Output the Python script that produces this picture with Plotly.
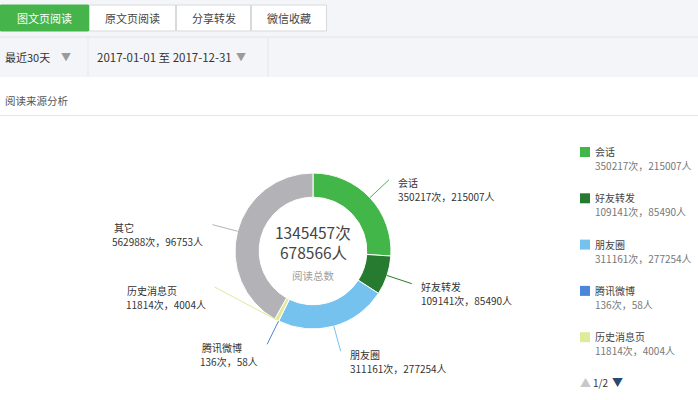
import math
import plotly.graph_objects as go

# ---------------- data ----------------
sources = ["会话", "好友转发", "朋友圈", "腾讯微博", "历史消息页", "其它"]
reads = [350217, 109141, 311161, 136, 11814, 562988]      # 次
readers = [215007, 85490, 277254, 58, 4004, 96753]         # 人
tabs = ["图文页阅读", "原文页阅读", "分享转发", "微信收藏"]
period_label = "最近30天"
date_range = "2017-01-01 至 2017-12-31"
center_caption = "阅读总数"
section_title = "阅读来源分析"
legend_page = "1/2"

# ---------------- style ----------------
W, H = 698, 400
colors = ["#43b649", "#267b31", "#75c2ee", "#4a86dc", "#dfeb98", "#b3b3b7"]
FONT = "Noto Sans CJK SC, Microsoft YaHei, sans-serif"
CX, CY, R = 313, 251, 78          # donut centre / outer radius (px)
HOLE = 0.69
LINE_EXT = 26                      # leader line length (px)
# per-slice leader override (dx, dy from ring point) for crowded labels
leader_override = {"历史消息页": (-62, -33)}
legend_rows = 5
LBL = 10                           # label font size


def X(px):
    return px / W


def Y(py):
    return 1 - py / H


def text(x, y, t, size, color, xa="center", ya="middle", align="left"):
    return dict(xref="paper", yref="paper", x=X(x), y=Y(y), text=t, showarrow=False,
                xanchor=xa, yanchor=ya, align=align, borderpad=0,
                font=dict(size=size, color=color))


fig = go.Figure()
fig.add_trace(go.Pie(
    labels=sources, values=reads, hole=HOLE, sort=False, direction="clockwise",
    rotation=0, textinfo="none", hoverinfo="label+value+percent",
    marker=dict(colors=colors, line=dict(color="white", width=1)),
    domain=dict(x=[X(CX - R), X(CX + R)], y=[Y(CY + R), Y(CY - R)]),
    showlegend=False,
))

shapes = []
ann = []

# ---------- header ----------
shapes.append(dict(type="rect", xref="paper", yref="paper", x0=0, x1=1, y0=Y(77), y1=1,
                   fillcolor="#f4f5f9", line=dict(width=0), layer="below"))
shapes.append(dict(type="line", xref="paper", yref="paper", x0=0, x1=1, y0=Y(37), y1=Y(37),
                   line=dict(color="#e3e4e8", width=1)))
tab_edges = [0, 89, 176, 251, 327]
for i, t in enumerate(tabs):
    x0, x1 = tab_edges[i], tab_edges[i + 1]
    active = i == 0
    shapes.append(dict(type="rect", xref="paper", yref="paper", x0=X(x0 + 0.5), x1=X(x1 - 0.5),
                       y0=Y(31), y1=Y(5),
                       fillcolor="#45b54b" if active else "#ffffff",
                       line=dict(color="#45b54b" if active else "#d8d9dc", width=1)))
    ann.append(text((x0 + x1) / 2, 18, t, 11, "#ffffff" if active else "#444444"))
for xv in (88, 268):
    shapes.append(dict(type="line", xref="paper", yref="paper", x0=X(xv), x1=X(xv), y0=Y(77), y1=Y(37),
                       line=dict(color="#e6e7eb", width=1)))
ann.append(text(4, 57, period_label, 11, "#333333", xa="left"))
ann.append(text(66, 57, "▼", 10, "#9a9a9a"))
ann.append(text(96, 57, date_range, 11.5, "#333333", xa="left"))
ann.append(text(241, 57, "▼", 10, "#9a9a9a"))
ann.append(text(4, 100, section_title, 10.5, "#555555", xa="left"))
shapes.append(dict(type="line", xref="paper", yref="paper", x0=0, x1=1, y0=Y(115.5), y1=Y(115.5),
                   line=dict(color="#e6e6e6", width=1)))

# ---------- centre text ----------
total_reads = sum(reads)
total_readers = sum(readers)
ann.append(text(CX, 232, f"{total_reads}次", 15.5, "#444444"))
ann.append(text(CX, 252, f"{total_readers}人", 15.5, "#444444"))
ann.append(text(CX, 275, center_caption, 10.5, "#a0a0a0"))

# ---------- slice labels with leader lines ----------
cum = 0
for name, v, p, c in zip(sources, reads, readers, colors):
    mid = (cum + v / 2) / total_reads
    cum += v
    ang = 2 * math.pi * mid
    sx, sy = math.sin(ang), -math.cos(ang)
    rx, ry = CX + R * sx, CY + R * sy
    if name in leader_override:
        dx, dy = leader_override[name]
    else:
        dx, dy = LINE_EXT * sx, LINE_EXT * sy
    ex, ey = rx + dx, ry + dy
    shapes.append(dict(type="line", xref="paper", yref="paper", x0=X(rx), y0=Y(ry), x1=X(ex), y1=Y(ey),
                       line=dict(color=c, width=1)))
    right = ex > CX
    vtxt = f"{v}次，{p}人"
    if right:
        ann.append(text(ex + 8, ey + 3, name, LBL, "#333333", xa="left"))
        ann.append(text(ex + 8, ey + 17, vtxt, LBL, "#333333", xa="left"))
    else:
        # block is right-aligned to the leader end, lines left-aligned within it
        w_est = LBL * (0.56 * sum(ch.isdigit() for ch in vtxt) + 3)
        ann.append(text(ex - 8 - w_est, ey + 3, name, LBL, "#333333", xa="left"))
        ann.append(text(ex - 8, ey + 17, vtxt, LBL, "#333333", xa="right"))

# ---------- legend (page 1) ----------
for i in range(legend_rows):
    yc = 152 + i * 46.3
    shapes.append(dict(type="rect", xref="paper", yref="paper", x0=X(580), x1=X(590),
                       y0=Y(yc + 5), y1=Y(yc - 5), fillcolor=colors[i], line=dict(width=0)))
    ann.append(text(594, yc - 0.5, sources[i], LBL, "#444444", xa="left"))
    ann.append(text(594, yc + 13.5, f"{reads[i]}次，{readers[i]}人", LBL, "#777777", xa="left"))
ann.append(text(585, 382, "▲", 11, "#c8c8c8"))
ann.append(text(592, 382, legend_page, 10, "#333333", xa="left"))
ann.append(text(617, 382, "▼", 11, "#2a4870"))

fig.update_layout(
    width=W, height=H, margin=dict(l=0, r=0, t=0, b=0),
    paper_bgcolor="#ffffff", plot_bgcolor="#ffffff",
    font=dict(family=FONT, size=11, color="#333333"),
    shapes=shapes, annotations=ann, showlegend=False,
)
fig.write_html("out.html", config={"displayModeBar": False})
